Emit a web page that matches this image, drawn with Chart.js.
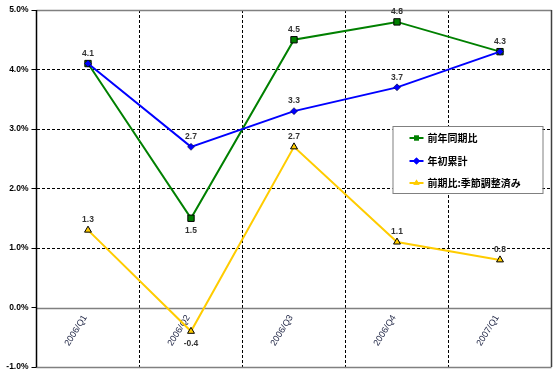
<!DOCTYPE html>
<html><head><meta charset="utf-8">
<script src="https://cdn.jsdelivr.net/npm/chart.js@4/dist/chart.umd.min.js"></script>
<style>html,body{margin:0;padding:0;background:#fff}#wrap{width:560px;height:380px}</style>
</head><body><div id="wrap"><canvas id="c" width="560" height="380"></canvas></div>
<script>
const categories = ['2006/Q1','2006/Q2','2006/Q3','2006/Q4','2007/Q1'];
const yoyValues = [4.1, 1.5, 4.5, 4.8, 4.3];
const ytdValues = [4.1, 2.7, 3.3, 3.7, 4.3];
const qoqValues = [1.3, -0.4, 2.7, 1.1, 0.8];
const seriesNames = ['前年同期比','年初累計','前期比:季節調整済み'];
const yTicks = [-1, 0, 1, 2, 3, 4, 5];
// label placement per point (null = hidden, because it coincides with another series)
const yoyLabelPos = ['above','below','above','above','above'];
const ytdLabelPos = [null,'above','above','above',null];
const qoqLabelPos = ['above','below','above','above','above'];

const frame = {
  id:'frame',
  beforeDatasetsDraw(chart){
    const {ctx, chartArea:a, scales:{y}} = chart;
    ctx.save();
    ctx.strokeStyle='#808080'; ctx.lineWidth=1.5;
    [5,-1,0].forEach(v=>{const py=Math.round(y.getPixelForValue(v))+0.5;ctx.beginPath();ctx.moveTo(a.left,py);ctx.lineTo(a.right,py);ctx.stroke();});
    ctx.strokeStyle='#404040'; ctx.lineWidth=1.5;
    ctx.beginPath();ctx.moveTo(a.right,a.top);ctx.lineTo(a.right,a.bottom);ctx.stroke();
    ctx.strokeStyle='#000';
    ctx.beginPath();ctx.moveTo(a.left,a.top);ctx.lineTo(a.left,a.bottom);ctx.stroke();
    // category labels
    const x = chart.scales.x; const zy = y.getPixelForValue(0);
    ctx.fillStyle='#1a2040'; ctx.font='9px "Liberation Sans", Arial';
    ctx.textAlign='center'; ctx.textBaseline='middle';
    categories.forEach((c,i)=>{
      ctx.save(); ctx.translate(x.getPixelForValue(i)-12, zy+23); ctx.rotate(-58*Math.PI/180);
      ctx.fillText(c,0,0); ctx.restore();
    });
    ctx.restore();
  }
};

const dataLabels = {
  id:'dataLabels',
  afterDatasetsDraw(chart){
    const {ctx} = chart;
    ctx.save();
    ctx.font='bold 8.5px "Liberation Sans", Arial'; ctx.fillStyle='#333';
    ctx.textAlign='center'; ctx.textBaseline='middle';
    chart.data.datasets.forEach((ds,di)=>{
      const meta = chart.getDatasetMeta(di);
      meta.data.forEach((pt,i)=>{
        const pos = ds.labelPos[i]; if(!pos) return;
        const yy = pos==='above' ? pt.y-10 : pt.y+12;
        ctx.fillText(ds.data[i].toFixed(1), pt.x, yy);
      });
    });
    ctx.restore();
  }
};

const boxLegend = {
  id:'boxLegend',
  afterDraw(chart){
    const {ctx, chartArea:a} = chart;
    const L = a.right-159, T = a.top+116, W = 150, H = 67;
    ctx.save();
    ctx.fillStyle='#fff'; ctx.fillRect(L,T,W,H);
    ctx.strokeStyle='#808080'; ctx.lineWidth=1; ctx.strokeRect(L+0.5,T+0.5,W,H);
    const offs=[12,35,57];
    chart.data.datasets.forEach((ds,i)=>{
      const yy = T+offs[i];
      ctx.strokeStyle=ds.borderColor; ctx.lineWidth=2;
      ctx.beginPath();ctx.moveTo(L+17,yy);ctx.lineTo(L+31,yy);ctx.stroke();
      ctx.fillStyle=ds.pointBackgroundColor;
      ctx.beginPath();
      Chart.helpers.drawPoint(ctx,{pointStyle:ds.pointStyle,radius:3.5,borderWidth:0,rotation:0},L+24,yy);
      ctx.fill();
      ctx.fillStyle='#000'; ctx.font='bold 10px "Noto Sans CJK JP"';
      ctx.textAlign='left'; ctx.textBaseline='middle';
      ctx.fillText(ds.label, L+35, yy);
    });
    ctx.restore();
  }
};

new Chart(document.getElementById('c'),{
  type:'line',
  data:{labels:categories,datasets:[
    {label:seriesNames[0],data:yoyValues,borderColor:'#008000',backgroundColor:'#008000',pointBackgroundColor:'#008000',pointBorderColor:'#000',pointBorderWidth:1,pointStyle:'rect',pointRadius:4.5,borderWidth:2,labelPos:yoyLabelPos,order:1},
    {label:seriesNames[1],data:ytdValues,borderColor:'#0000FF',backgroundColor:'#0000FF',pointBackgroundColor:'#0000FF',pointBorderColor:'#000',pointBorderWidth:0.5,pointStyle:'rectRot',pointRadius:3.5,borderWidth:2,labelPos:ytdLabelPos,order:0},
    {label:seriesNames[2],data:qoqValues,borderColor:'#FFCC00',backgroundColor:'#FFCC00',pointBackgroundColor:'#FFCC00',pointBorderColor:'#000',pointBorderWidth:1,pointStyle:'triangle',pointRadius:4,borderWidth:2,labelPos:qoqLabelPos,order:2}
  ]},
  options:{
    responsive:false, animation:false,
    layout:{padding:{left:0,right:8.5,top:10,bottom:13}},
    plugins:{legend:{display:false},tooltip:{enabled:false}},
    elements:{line:{tension:0}},
    scales:{
      x:{offset:true,
        grid:{offset:true,color:'#000',drawTicks:false,lineWidth:1},
        border:{display:false,dash:[3,2]},
        ticks:{display:false},
        afterFit(s){s.height=0;}
      },
      y:{min:-1,max:5,
        afterBuildTicks(s){s.ticks=yTicks.map(v=>({value:v}));},
        afterFit(s){s.width=36.5;},
        grid:{color:(c)=>([5,0,-1].includes(c.tick&&c.tick.value)?'rgba(0,0,0,0)':'#000'),tickColor:'#000',tickLength:5,lineWidth:1},
        border:{display:false,dash:[3,2]},
        ticks:{padding:3,color:'#000',font:{family:'"Liberation Sans", Arial',size:8.5,weight:'bold'},callback:(v)=>Number(v).toFixed(1)+'%'}
      }
    }
  },
  plugins:[frame,dataLabels,boxLegend]
});
</script></body></html>
